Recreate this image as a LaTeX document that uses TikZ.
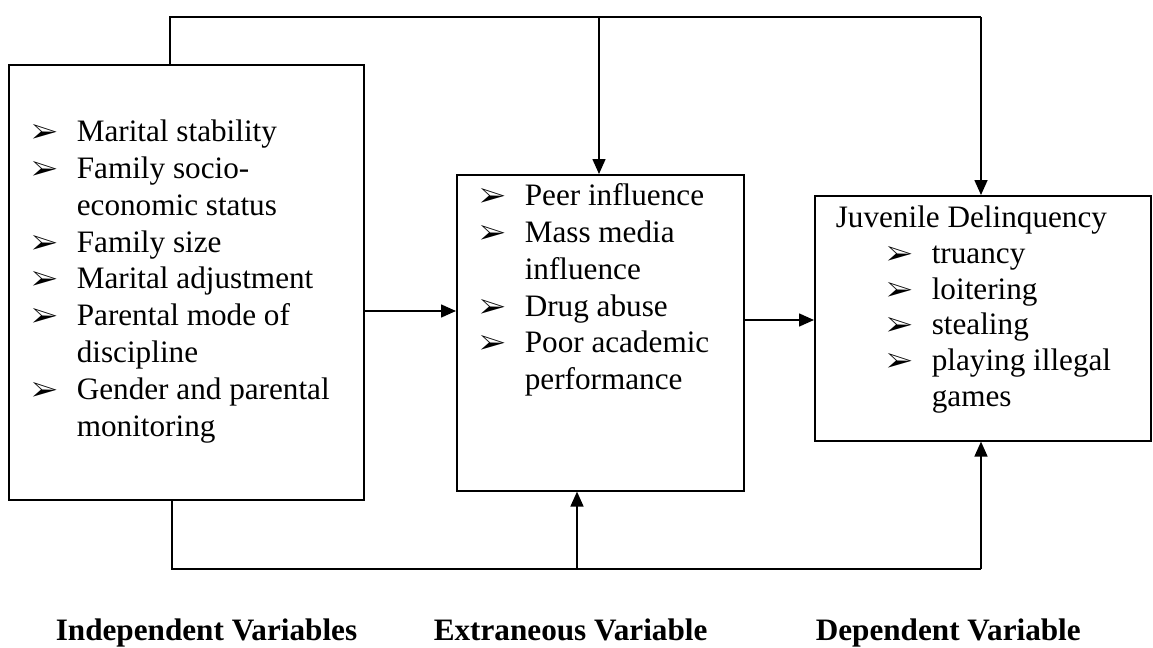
\documentclass[tikz,border=0pt]{standalone}
\usepackage{fontspec}
\setmainfont{Liberation Serif}
\usepackage{pifont}
\usetikzlibrary{arrows.meta}

\newcommand{\bull}{{\fontsize{14}{14}\selectfont\ding{226}}}
\newcommand{\itm}{\makebox[22.5pt][l]{\bull}}

\begin{document}
\begin{tikzpicture}[x=0.5pt, y=-0.5pt, line width=0.8pt,
	var box/.style={draw, rectangle, anchor=north west, inner sep=0pt},
	list text/.style={anchor=base west, inner sep=0pt, font={\fontsize{15.6}{18.5}\selectfont}},
	heading/.style={anchor=base west, inner sep=0pt, font={\fontsize{15.6}{18}\selectfont\bfseries}},
	link/.style={-{Triangle[length=7.5pt, width=6.5pt]}}]
	\useasboundingbox (0,0) rectangle (1153,648);

	%variable boxes
	\node[var box, minimum width=177.5pt, minimum height=217.5pt] (indep) at (8,64) {};
	\node[var box, minimum width=143.5pt, minimum height=158pt] (extr) at (456,174) {};
	\node[var box, minimum width=168pt, minimum height=122.5pt] (dep) at (814,195) {};

	%independent variables
	\node[list text] (indep list) at (31,141) {\begin{tabular}[t]{@{}l@{}l@{}}
		\itm & Marital stability\\
		\itm & Family socio-\\
		     & economic status\\
		\itm & Family size\\
		\itm & Marital adjustment\\
		\itm & Parental mode of\\
		     & discipline\\
		\itm & Gender and parental\\
		     & monitoring
	\end{tabular}};

	%extraneous variable
	\node[list text] (extr list) at (479,205) {\begin{tabular}[t]{@{}l@{}l@{}}
		\itm & Peer influence\\
		\itm & Mass media\\
		     & influence\\
		\itm & Drug abuse\\
		\itm & Poor academic\\
		     & performance
	\end{tabular}};

	%dependent variable
	\node[list text, font={\fontsize{15.6}{18}\selectfont}] (dep list) at (835,227) {\begin{tabular}[t]{@{}l@{}l@{}}
		\multicolumn{2}{@{}l@{}}{Juvenile Delinquency}\\
		\hspace*{25.5pt}\itm & truancy\\
		\hspace*{25.5pt}\itm & loitering\\
		\hspace*{25.5pt}\itm & stealing\\
		\hspace*{25.5pt}\itm & playing illegal\\
		                   & games
	\end{tabular}};

	%main flow
	\coordinate (flow a) at (400,311);
	\coordinate (flow b) at (780,320);
	\draw[link] (indep.east |- flow a) -- (extr.west |- flow a);
	\draw[link] (extr.east |- flow b) -- (dep.west |- flow b);

	%upper loop
	\coordinate (top left) at (170,17);
	\coordinate (top mid) at (599,17);
	\coordinate (top right) at (981,17);
	\draw (indep.north -| top left) -- (top left) -- (top right);
	\draw[link] (top mid) -- (extr.north -| top mid);
	\draw[link] (top right) -- (dep.north -| top right);

	%lower loop
	\coordinate (bot left) at (172,569);
	\coordinate (bot mid) at (577,569);
	\coordinate (bot right) at (981,569);
	\draw (indep.south -| bot left) -- (bot left) -- (bot right);
	\draw[link] (bot mid) -- (extr.south -| bot mid);
	\draw[link] (bot right) -- (dep.south -| bot right);

	%column labels
	\node[heading] (indep label) at (55,640) {Independent Variables};
	\node[heading] (extr label) at (433,640) {Extraneous Variable};
	\node[heading] (dep label) at (815,640) {Dependent Variable};
\end{tikzpicture}
\end{document}
